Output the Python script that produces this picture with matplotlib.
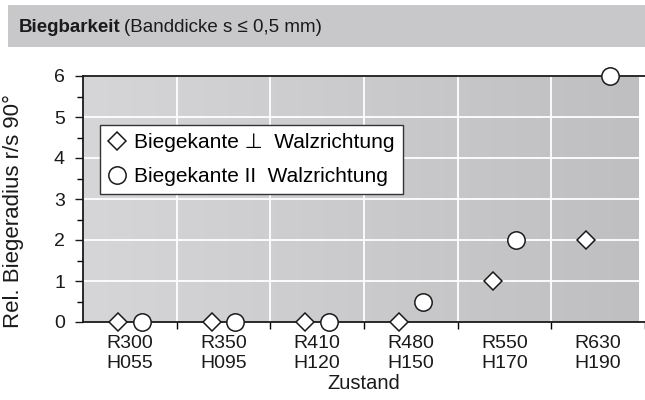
import matplotlib
matplotlib.use("Agg")
import matplotlib.pyplot as plt
import numpy as np
from matplotlib.patches import Rectangle
from matplotlib.lines import Line2D
from matplotlib.colors import LinearSegmentedColormap

plt.rcParams['font.family'] = ['Liberation Sans', 'DejaVu Sans']

categories = ["R300\nH055", "R350\nH095", "R410\nH120", "R480\nH150", "R550\nH170", "R630\nH190"]
senkrecht = [0, 0, 0, 0, 1, 2]        # Biegekante ⊥ Walzrichtung
parallel = [0, 0, 0, 0.5, 2, 6]       # Biegekante II Walzrichtung
legend_labels = ["Biegekante \u22a5  Walzrichtung", "Biegekante II  Walzrichtung"]

fig = plt.figure(figsize=(6.45, 4.0), dpi=100)

# title banner
fig.patches.append(Rectangle((8/645, 1-47/400), 1-8/645, 42/400, transform=fig.transFigure,
                             facecolor='#c8c8ca', edgecolor='none', zorder=0))
t1 = fig.text(19/645, 1-28/400, "Biegbarkeit", fontsize=13.5, fontweight='bold',
              va='center', ha='left', color='#1a1a1a')
fig.canvas.draw()
bb = t1.get_window_extent()
fig.text(bb.x1/645 + 3/645, 1-28/400, "(Banddicke s \u2264 0,5 mm)", fontsize=13.5,
         va='center', ha='left', color='#1a1a1a')

ax = fig.add_axes([83/645, 1-322/400, 1-83/645, (322-76)/400])
x = np.arange(len(categories))
xmax = -0.5 + (645-83)/94.8
ax.set_xlim(-0.5, xmax)
ax.set_ylim(0, 6)

# gradient background
grad = np.linspace(0, 1, 256).reshape(1, -1)
cmap = LinearSegmentedColormap.from_list('bg', ['#d6d6d8', '#bfbfc1'])
ax.imshow(grad, extent=[-0.5, xmax, 0, 6], aspect='auto', cmap=cmap, zorder=0)

# grid
for yv in range(1, 7):
    ax.axhline(yv, color='white', lw=1.3, zorder=1)
for xv in np.arange(0.5, len(categories)):
    ax.axvline(xv, color='white', lw=1.3, zorder=1)

off = 0.125
ax.plot(x - off, senkrecht, linestyle='none', marker='D', markersize=9.5,
        markerfacecolor='white', markeredgecolor='#1a1a1a', markeredgewidth=1.1,
        zorder=5, clip_on=False)
ax.plot(x + off, parallel, linestyle='none', marker='o', markersize=12.5,
        markerfacecolor='white', markeredgecolor='#1a1a1a', markeredgewidth=1.1,
        zorder=5, clip_on=False)

ax.set_yticks(range(0, 7))
ax.set_yticks(np.arange(0.5, 6, 1), minor=True)
ax.set_xticks(np.arange(0.5, len(categories)))
ax.set_xticks(x, minor=True)
ax.set_xticklabels([])
ax.set_xticklabels(categories, minor=True)
ax.tick_params(axis='y', which='major', direction='out', length=6, width=1, labelsize=14,
               colors='#1a1a1a', pad=7)
ax.tick_params(axis='y', which='minor', direction='out', length=4, width=1)
ax.tick_params(axis='x', which='major', direction='out', length=5, width=1)
ax.tick_params(axis='x', which='minor', length=0, labelsize=14, colors='#1a1a1a', pad=9)
for lab in ax.get_xticklabels(minor=True):
    lab.set_linespacing(1.3)

for s in ['left', 'bottom', 'top']:
    ax.spines[s].set_linewidth(1.3)
    ax.spines[s].set_color('#1a1a1a')
    ax.spines[s].set_zorder(4)
ax.spines['right'].set_visible(False)

ax.set_ylabel("Rel. Biegeradius r/s 90\u00b0", fontsize=16, color='#1a1a1a')
ax.yaxis.set_label_coords((24-83)/562, (322-211)/246)
ax.set_xlabel("Zustand", fontsize=14.5, color='#1a1a1a', labelpad=1)

handles = [Line2D([], [], linestyle='none', marker='D', markersize=9.5, markerfacecolor='white',
                  markeredgecolor='#1a1a1a', markeredgewidth=1.1),
           Line2D([], [], linestyle='none', marker='o', markersize=12.5, markerfacecolor='white',
                  markeredgecolor='#1a1a1a', markeredgewidth=1.1)]
leg = ax.legend(handles, legend_labels, loc='upper left',
                bbox_to_anchor=((100-83)/562, (322-125)/246), fontsize=15,
                frameon=True, fancybox=False, edgecolor='#333333', framealpha=1,
                handlelength=0.8, handletextpad=0.45, borderpad=0.4, labelspacing=0.7,
                borderaxespad=0)
leg.get_frame().set_linewidth(1.0)
leg.set_zorder(6)

fig.savefig("out.png", dpi=100)
